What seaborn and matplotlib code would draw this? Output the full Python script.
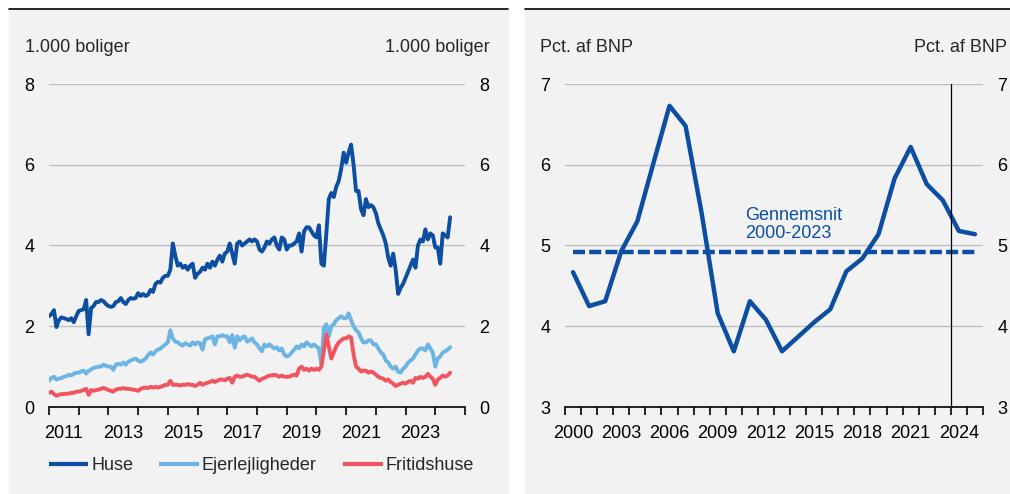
import numpy as np
import pandas as pd
import matplotlib.pyplot as plt
import matplotlib
from matplotlib.patches import Rectangle
from matplotlib.lines import Line2D
import seaborn as sns

# Venstre figur: månedlige tal, jan. 2011 - jul. 2024 (1.000 boliger)
huse = [
    2.25, 2.3, 2.4, 1.98, 2.15, 2.22, 2.2, 2.18, 2.15, 2.2, 2.1, 2.25,   # 2011
    2.38, 2.4, 2.42, 2.65, 1.8, 2.45, 2.5, 2.6, 2.6, 2.65, 2.62, 2.55,   # 2012
    2.5, 2.48, 2.5, 2.6, 2.62, 2.7, 2.6, 2.55, 2.65, 2.7, 2.68, 2.7,     # 2013
    2.82, 2.75, 2.8, 2.75, 2.78, 2.9, 2.85, 3.05, 3.1, 3.08, 3.2, 3.25,  # 2014
    3.25, 3.4, 4.05, 3.75, 3.5, 3.55, 3.45, 3.5, 3.4, 3.5, 3.55, 3.2,   # 2015
    3.3, 3.35, 3.45, 3.4, 3.55, 3.45, 3.6, 3.5, 3.65, 3.75, 3.6, 3.8,   # 2016
    3.85, 4.05, 3.8, 3.55, 4.05, 4.1, 4.0, 4.05, 4.1, 4.15, 4.1, 4.15,  # 2017
    4.1, 3.9, 3.85, 3.95, 4.1, 4.05, 4.15, 4.2, 4.0, 3.9, 4.2, 4.15,    # 2018
    3.9, 4.0, 4.0, 4.05, 4.1, 4.3, 3.85, 4.35, 4.45, 4.45, 4.35, 4.25,  # 2019
    4.2, 4.5, 3.55, 3.5, 4.3, 5.15, 5.3, 5.2, 5.45, 5.6, 5.9, 6.3,      # 2020
    6.05, 6.3, 6.5, 6.0, 5.35, 5.35, 4.9, 4.75, 5.15, 4.95, 5.0, 4.95,  # 2021
    4.8, 4.55, 4.4, 4.25, 4.05, 3.7, 3.5, 3.8, 3.4, 2.8, 2.95, 3.05,    # 2022
    3.2, 3.35, 3.5, 3.65, 3.45, 4.0, 4.15, 4.1, 4.4, 4.15, 4.3, 4.25,   # 2023
    3.95, 3.95, 3.55, 4.3, 4.25, 4.2, 4.7,                              # 2024
]
ejerlejligheder = [
    0.65, 0.72, 0.75, 0.68, 0.7, 0.72, 0.75, 0.76, 0.8, 0.78, 0.82, 0.85,
    0.85, 0.88, 0.9, 0.83, 0.9, 0.93, 0.97, 0.98, 1.0, 1.0, 1.05, 1.02,
    1.0, 1.0, 0.92, 1.05, 1.07, 1.05, 1.1, 1.05, 1.12, 1.15, 1.18, 1.2,
    1.15, 1.12, 1.15, 1.2, 1.28, 1.35, 1.3, 1.38, 1.42, 1.45, 1.5, 1.55,
    1.6, 1.9, 1.7, 1.62, 1.6, 1.55, 1.52, 1.58, 1.55, 1.52, 1.6, 1.55,
    1.6, 1.58, 1.42, 1.68, 1.7, 1.72, 1.75, 1.55, 1.75, 1.75, 1.78, 1.75,
    1.75, 1.6, 1.78, 1.47, 1.75, 1.65, 1.72, 1.75, 1.62, 1.65, 1.7, 1.6,
    1.55, 1.45, 1.38, 1.55, 1.5, 1.55, 1.5, 1.45, 1.48, 1.4, 1.45, 1.3,
    1.25, 1.28, 1.35, 1.42, 1.5, 1.45, 1.55, 1.5, 1.6, 1.55, 1.5, 1.55,
    1.5, 1.45, 1.07, 1.95, 2.05, 1.75, 2.0, 2.05, 2.15, 2.2, 2.25, 2.2,
    2.2, 2.32, 2.15, 2.0, 1.9, 1.85, 1.7, 1.6, 1.6, 1.65, 1.65, 1.55,
    1.55, 1.45, 1.35, 1.3, 1.15, 1.1, 1.0, 0.95, 1.0, 0.87, 0.85, 0.95,
    1.0, 1.1, 1.15, 1.2, 1.3, 1.4, 1.45, 1.45, 1.4, 1.55, 1.45, 1.35,
    1.0, 1.2, 1.25, 1.35, 1.38, 1.42, 1.48,
]
fritidshuse = [
    0.35, 0.38, 0.32, 0.28, 0.3, 0.32, 0.32, 0.33, 0.33, 0.35, 0.35, 0.38,
    0.38, 0.4, 0.42, 0.45, 0.3, 0.42, 0.4, 0.42, 0.43, 0.45, 0.47, 0.45,
    0.42, 0.4, 0.38, 0.43, 0.45, 0.45, 0.47, 0.45, 0.45, 0.44, 0.43, 0.42,
    0.4, 0.45, 0.47, 0.48, 0.47, 0.5, 0.48, 0.5, 0.48, 0.5, 0.52, 0.55,
    0.55, 0.65, 0.55, 0.55, 0.55, 0.53, 0.55, 0.55, 0.57, 0.55, 0.55, 0.52,
    0.55, 0.6, 0.55, 0.58, 0.6, 0.62, 0.65, 0.62, 0.65, 0.68, 0.68, 0.66,
    0.7, 0.72, 0.6, 0.75, 0.78, 0.75, 0.75, 0.78, 0.8, 0.78, 0.75, 0.75,
    0.7, 0.65, 0.7, 0.72, 0.75, 0.78, 0.78, 0.8, 0.78, 0.75, 0.78, 0.75,
    0.75, 0.75, 0.78, 0.8, 0.78, 0.95, 1.0, 0.92, 0.95, 0.9, 0.95, 0.92,
    0.95, 0.92, 1.0, 1.4, 1.8, 1.5, 1.2, 1.35, 1.5, 1.6, 1.65, 1.7,
    1.7, 1.75, 1.72, 1.3, 1.0, 0.95, 0.88, 0.9, 0.9, 0.85, 0.88, 0.85,
    0.8, 0.75, 0.72, 0.7, 0.65, 0.68, 0.62, 0.58, 0.52, 0.55, 0.58, 0.6,
    0.58, 0.62, 0.65, 0.6, 0.72, 0.7, 0.75, 0.72, 0.75, 0.82, 0.75, 0.7,
    0.55, 0.68, 0.72, 0.78, 0.75, 0.78, 0.85,
]

# Højre figur: årlige tal, pct. af BNP
aar = list(range(2000, 2026))
bnp_andel = [4.67, 4.25, 4.31, 4.93, 5.30, 6.02, 6.73, 6.48, 5.40, 4.16,
             3.69, 4.31, 4.08, 3.69, 3.87, 4.05, 4.21, 4.68, 4.84, 5.14,
             5.83, 6.22, 5.76, 5.56, 5.18, 5.14]

DARK = "#0b4ea2"
LIGHT = "#6cb4e4"
RED = "#f0555f"
BG = "#f2f2f2"
GRID = "#bfbfbf"
FS = 13

sns.set_style("white")
plt.rcParams["font.family"] = ["Liberation Sans", "DejaVu Sans"]
plt.rcParams["font.size"] = FS

fig = plt.figure(figsize=(10.10, 4.94), dpi=100)
W, H = 1010, 494

# panel baggrunde og sorte streger i toppen
for x0, x1 in [(9, 508), (525, 1010)]:
    fig.patches.append(Rectangle((x0 / W, 0), (x1 - x0) / W, 1 - 10 / H,
                                 transform=fig.transFigure, color=BG, zorder=-5))
    fig.add_artist(Line2D([x0 / W, x1 / W], [1 - 9.5 / H] * 2, color="black", lw=1.2))

bottom, top = 1 - 407 / H, 1 - 84 / H
ax1 = fig.add_axes([49 / W, bottom, (465 - 49) / W, top - bottom])
ax2 = fig.add_axes([565 / W, bottom, (983 - 565) / W, top - bottom])

# ---------------- venstre ----------------
n = len(huse)
df = pd.DataFrame({
    "tid": 2011 + np.arange(n) / 12,
    "Huse": huse,
    "Ejerlejligheder": ejerlejligheder,
    "Fritidshuse": fritidshuse,
})
long = df.melt(id_vars="tid", var_name="Type", value_name="antal")
sns.lineplot(data=long, x="tid", y="antal", hue="Type", ax=ax1,
             palette={"Huse": DARK, "Ejerlejligheder": LIGHT, "Fritidshuse": RED},
             hue_order=["Ejerlejligheder", "Fritidshuse", "Huse"], lw=2.8, legend=False)

ax1.set_xlim(2011, 2025)
ax1.set_ylim(0, 8)
ax1.set_yticks([0, 2, 4, 6, 8])
ax1.set_xticks(np.arange(2011, 2024, 2) + 0.5)
ax1.set_xticklabels([str(y) for y in range(2011, 2024, 2)])
ax1.set_xticks(np.arange(2011, 2026), minor=True)

handles = [Line2D([], [], color=c, lw=3, solid_capstyle="butt") for c in (DARK, LIGHT, RED)]
ax1.legend(handles, ["Huse", "Ejerlejligheder", "Fritidshuse"], ncol=3, frameon=False,
           loc="upper left", bbox_to_anchor=(-0.018, -0.133), handlelength=2.2,
           handletextpad=0.15, columnspacing=1.45, borderaxespad=0, fontsize=FS)

# ---------------- højre ----------------
dfr = pd.DataFrame({"pos": np.arange(len(aar)), "andel": bnp_andel})
gennemsnit = np.mean(bnp_andel[:24])
dfr["snit"] = gennemsnit
sns.lineplot(data=dfr, x="pos", y="andel", ax=ax2, color=DARK, lw=3.2)
sns.lineplot(data=dfr, x="pos", y="snit", ax=ax2, color=DARK, lw=3.2, dashes=False,
             linestyle=(0, (2.7, 0.95)))
ax2.axvline(23.5, color="black", lw=0.9)
ax2.text(10.7, 5.26, "Gennemsnit\n2000-2023", color=DARK, ha="left", va="center",
         linespacing=1.1, fontsize=FS)

ax2.set_xlim(-0.5, 25.5)
ax2.set_ylim(3, 7)
ax2.set_yticks([3, 4, 5, 6, 7])
ax2.set_xticks(np.arange(0, 25, 3))
ax2.set_xticklabels([str(aar[i]) for i in range(0, 25, 3)])
ax2.set_xticks(np.arange(-0.5, 26, 1), minor=True)

for ax in (ax1, ax2):
    ax.set_facecolor(BG)
    ax.set_xlabel("")
    ax.set_ylabel("")
    for s in ("top", "left", "right"):
        ax.spines[s].set_visible(False)
    ax.spines["bottom"].set_color("black")
    ax.spines["bottom"].set_linewidth(1.2)
    ax.grid(axis="y", color=GRID, lw=1)
    ax.set_axisbelow(True)
    ax.tick_params(axis="y", which="both", length=0, pad=10.5, labelleft=True, labelright=True)
    ax.tick_params(axis="x", which="major", length=0, pad=13, bottom=True)
    ax.tick_params(axis="x", which="minor", length=6, width=1.2, color="black",
                   direction="out", bottom=True)
    ax.tick_params(labelsize=FS, colors="black")

# enhedstekster
fig.text(25 / W, 1 - 48 / H, "1.000 boliger", ha="left", va="center", fontsize=FS)
fig.text(490 / W, 1 - 48 / H, "1.000 boliger", ha="right", va="center", fontsize=FS)
fig.text(540 / W, 1 - 48 / H, "Pct. af BNP", ha="left", va="center", fontsize=FS)
fig.text(1007 / W, 1 - 48 / H, "Pct. af BNP", ha="right", va="center", fontsize=FS)

fig.savefig("out.png", dpi=100, facecolor="white")
